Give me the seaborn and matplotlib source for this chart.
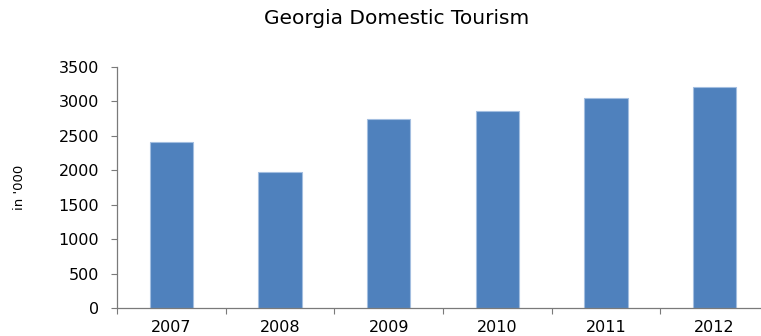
import matplotlib
matplotlib.use("Agg")
import matplotlib.pyplot as plt
import seaborn as sns
import pandas as pd

years = ["2007", "2008", "2009", "2010", "2011", "2012"]
tourists = [2413, 1974, 2747, 2855, 3048, 3207]
y_ticks = [0, 500, 1000, 1500, 2000, 2500, 3000, 3500]

df = pd.DataFrame({"year": years, "tourists": tourists})

sns.set_theme(style="white")
plt.rcParams["font.family"] = ["DejaVu Sans"]

W, H = 761, 336
fig = plt.figure(figsize=(W / 100, H / 100), dpi=100)
ax = fig.add_axes([117 / W, 1 - 308 / H, (769 - 117) / W, (308 - 67) / H])

sns.barplot(data=df, x="year", y="tourists", ax=ax, width=0.4,
            color="#4F81BD", saturation=1, edgecolor="#A3BEE0", linewidth=0.8)

ax.set_xlim(-0.5, len(years) - 0.5)
ax.set_ylim(0, 3500)
ax.set_yticks(y_ticks)
ax.set_yticklabels([str(v) for v in y_ticks])

# category labels centred on bars, tick marks between categories
ax.set_xticks([i - 0.5 for i in range(len(years) + 1)])
ax.set_xticklabels([])
ax.set_xticks(range(len(years)), minor=True)
ax.set_xticklabels(years, minor=True)
ax.tick_params(axis="x", which="major", direction="out", length=4, width=0.8,
               color="#7A7A7A", bottom=True)
ax.tick_params(axis="x", which="minor", length=0, pad=8.5, labelsize=11.5,
               labelcolor="black")
ax.tick_params(axis="y", direction="out", length=4, width=0.8, color="#7A7A7A",
               left=True, pad=9, labelsize=11.5, labelcolor="black")

for s in ["top", "right"]:
    ax.spines[s].set_visible(False)
for s in ["left", "bottom"]:
    ax.spines[s].set_color("#7A7A7A")
    ax.spines[s].set_linewidth(0.9)

ax.set_xlabel("")
ax.set_ylabel("in '000", fontsize=9.5, labelpad=23, color="black")

fig.text(397 / W, 1 - 18 / H, "Georgia Domestic Tourism", ha="center",
         va="center", fontsize=14.5, color="black")

fig.savefig("out.png", dpi=100)
